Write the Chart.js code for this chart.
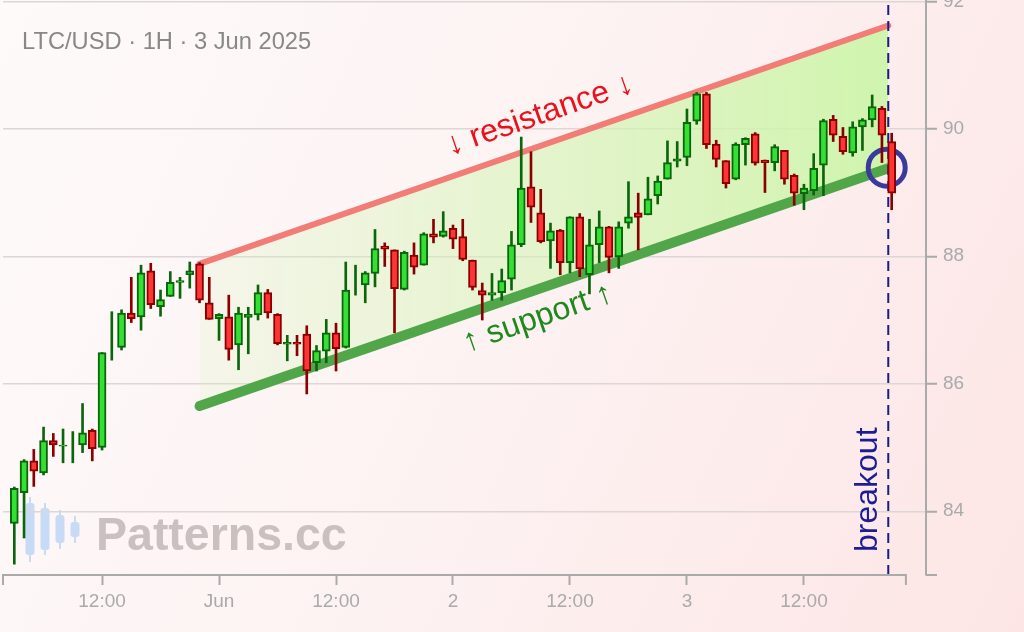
<!DOCTYPE html>
<html>
<head>
<meta charset="utf-8">
<script src="https://cdn.jsdelivr.net/npm/chart.js@4.4.1/dist/chart.umd.min.js"></script>
<style>
html,body{margin:0;padding:0;}
body{width:1024px;height:632px;overflow:hidden;background:linear-gradient(115deg,#fefafa 0%,#fdf3f3 45%,#fde5e5 100%);}
canvas{display:block;}
</style>
</head>
<body>
<canvas id="c" width="1024" height="632"></canvas>
<script>
// ---- data (hours counted from 31 May 2025 00:00) ----
const hours = [3,4,5,6,7,8,9,10,11,12,13,14,15,16,17,18,19,20,21,22,23,24,25,26,27,28,29,30,31,32,33,34,35,36,37,38,39,40,41,42,43,44,45,46,47,48,49,50,51,52,53,54,55,56,57,58,59,60,61,62,63,64,65,66,67,68,69,70,71,72,73,74,75,76,77,78,79,80,81,82,83,84,85,86,87,88,89,90,91,92,93];
const opens  = [83.81,84.29,84.79,84.60,85.11,85.02,85.05,85.04,85.27,85.00,86.55,86.57,87.11,87.05,87.77,87.21,87.37,87.59,87.71,87.88,87.27,87.02,87.05,86.61,87.04,87.08,87.43,87.09,86.62,86.65,86.78,86.33,86.51,86.80,86.57,87.60,87.55,87.73,88.16,88.10,87.48,88.02,87.86,88.35,88.31,88.44,88.31,87.94,87.46,87.39,87.43,87.64,88.18,89.09,88.68,88.24,88.41,87.90,88.62,87.71,88.18,88.46,87.99,88.52,88.68,88.65,88.95,89.21,89.49,89.55,90.12,90.55,89.76,89.50,89.21,89.75,89.92,89.51,89.47,89.66,89.27,88.98,89.03,89.43,90.15,89.88,89.62,90.03,90.14,90.32,89.80];
const highs  = [84.38,84.81,84.97,85.32,85.22,85.29,85.25,85.69,85.29,86.49,87.13,87.16,87.67,87.86,87.89,87.47,87.76,87.67,87.91,87.90,87.67,87.10,87.39,87.20,87.20,87.55,87.48,87.10,86.76,86.76,86.91,86.60,87.01,86.95,87.91,87.86,87.76,88.42,88.21,88.10,88.08,88.21,88.37,88.58,88.70,88.49,88.58,87.94,87.58,87.73,87.80,88.39,89.87,89.64,89.05,88.52,88.42,88.62,88.67,88.58,88.71,88.47,88.54,89.17,88.99,89.24,89.26,89.81,89.80,90.31,90.57,90.57,89.82,89.50,89.78,89.86,89.94,89.51,89.75,89.66,89.29,89.13,89.61,90.15,90.21,90.02,90.11,90.16,90.53,90.35,89.93];
const lows   = [83.17,83.58,84.39,84.57,84.86,84.76,84.76,84.92,84.79,84.96,86.37,86.53,86.96,86.84,87.18,87.06,87.37,87.34,87.50,87.27,87.01,86.68,86.37,86.22,86.47,87.00,87.03,86.61,86.36,86.44,85.84,86.20,86.33,86.20,86.56,87.39,87.27,87.52,87.84,86.80,87.47,87.72,87.86,88.21,88.30,88.12,87.93,87.47,87.00,87.31,87.31,87.47,88.15,88.53,88.21,87.81,87.71,87.74,87.68,87.41,87.90,87.74,87.81,88.44,88.10,88.65,88.82,89.21,89.40,89.42,90.07,89.69,89.40,89.07,89.20,89.43,89.43,89.00,89.34,89.13,88.80,88.73,88.96,88.95,89.80,89.60,89.57,89.66,90.03,89.47,88.73];
const closes = [84.36,84.79,84.63,85.11,85.04,85.04,85.05,85.23,84.98,86.49,86.55,87.11,87.02,87.74,87.24,87.32,87.59,87.62,87.77,87.31,87.01,87.09,86.54,87.11,87.09,87.43,87.11,86.63,86.65,86.62,86.20,86.52,86.80,86.55,87.47,87.60,87.74,88.12,88.11,87.49,88.06,87.83,88.35,88.30,88.40,88.27,87.95,87.51,87.39,87.43,87.62,88.18,89.07,88.77,88.23,88.40,87.90,88.62,87.80,88.18,88.46,87.98,88.46,88.62,88.61,88.90,89.18,89.47,89.53,90.10,90.55,89.75,89.52,89.14,89.76,89.85,89.46,89.47,89.72,89.21,88.99,89.07,89.38,90.13,89.90,89.64,90.03,90.14,90.35,89.90,88.99];

const xTickHours  = [12,24,36,48,60,72,84];
const xTickLabels = ['12:00','Jun','12:00','2','12:00','3','12:00'];
const yTicks = [84,86,88,90,92];

const channelX    = [22, 92.65];
const resistanceY = [87.88, 91.62];
const supportY    = [85.65, 89.38];
const breakoutHour = 92.65;
const breakoutPoint = [92.49, 89.39];

const titleText = 'LTC/USD · 1H · 3 Jun 2025';
const watermarkText = 'Patterns.cc';
const resistanceText = '↓ resistance ↓';
const supportText = '↑ support ↑';
const breakoutText = 'breakout';

// ---- styling ----
const FONT = '"Liberation Sans", Arial, sans-serif';
const bullFill = '#35e035', bullEdge = '#0b660b';
const bearFill = '#ff3535', bearEdge = '#8a0000';
const isBull = opens.map((o,i)=> closes[i] >= o);

Chart.defaults.font.family = FONT;

const deco = {
  id: 'deco',
  beforeDraw(chart) {
    const ctx = chart.ctx;
    ctx.save();
    // watermark logo
    ctx.fillStyle = '#c7daf6';
    ctx.strokeStyle = '#c7daf6';
    const logo = [[30,497,503,555,562],[45,503,508,550,555],[60,510,515,543,549],[75,516,522,537,543]];
    logo.forEach(([cx,wt,bt,bb,wb])=>{
      ctx.lineWidth = 2;
      ctx.beginPath(); ctx.moveTo(cx,wt); ctx.lineTo(cx,wb); ctx.stroke();
      ctx.beginPath();
      if (ctx.roundRect) ctx.roundRect(cx-4.5, bt, 9, bb-bt, 3); else ctx.rect(cx-4.5, bt, 9, bb-bt);
      ctx.fill();
    });
    ctx.font = 'bold 46.5px ' + FONT;
    ctx.fillStyle = '#cbc0c0';
    ctx.textBaseline = 'alphabetic';
    ctx.fillText(watermarkText, 96, 550);
    // title
    ctx.font = '23.7px ' + FONT;
    ctx.fillStyle = '#888888';
    ctx.fillText(titleText, 22, 48.5);
    ctx.restore();
  },
  afterDatasetsDraw(chart) {
    const ctx = chart.ctx, xs = chart.scales.x, ys = chart.scales.y, area = chart.chartArea;
    ctx.save();
    // x axis line with end caps
    ctx.strokeStyle = '#aaaaaa'; ctx.lineWidth = 2;
    const xa = xs.getPixelForValue(xs.min), xb = xs.getPixelForValue(94.46);
    ctx.beginPath();
    ctx.moveTo(xa, area.bottom + 10); ctx.lineTo(xa, area.bottom);
    ctx.lineTo(xb, area.bottom); ctx.lineTo(xb, area.bottom + 10);
    ctx.stroke();
    // y axis bottom cap
    ctx.beginPath(); ctx.moveTo(area.right, area.bottom); ctx.lineTo(area.right + 11, area.bottom); ctx.stroke();

    // channel labels
    const px0 = xs.getPixelForValue(channelX[0]), px1 = xs.getPixelForValue(channelX[1]);
    const ang = Math.atan2(ys.getPixelForValue(resistanceY[1]) - ys.getPixelForValue(resistanceY[0]), px1 - px0);
    const lineAt = (arr, h) => arr[0] + (arr[1]-arr[0]) * (h - channelX[0]) / (channelX[1]-channelX[0]);
    ctx.font = '32px ' + FONT;
    ctx.textAlign = 'center'; ctx.textBaseline = 'middle';
    let h = 56.9;
    ctx.save();
    ctx.translate(xs.getPixelForValue(h), ys.getPixelForValue(lineAt(resistanceY, h)) - 31);
    ctx.rotate(ang);
    ctx.fillStyle = '#e8121c';
    ctx.fillText(resistanceText, 0, 0);
    ctx.restore();
    h = 56.7;
    ctx.save();
    ctx.translate(xs.getPixelForValue(h), ys.getPixelForValue(lineAt(supportY, h)) + 29);
    ctx.rotate(ang);
    ctx.fillStyle = '#1e8a1e';
    ctx.fillText(supportText, 0, 0);
    ctx.restore();
    // breakout label
    ctx.save();
    ctx.translate(xs.getPixelForValue(breakoutHour) - 11, 552);
    ctx.rotate(-Math.PI/2);
    ctx.textAlign = 'left'; ctx.textBaseline = 'alphabetic';
    ctx.fillStyle = '#1c1c96';
    ctx.fillText(breakoutText, 0, 0);
    ctx.restore();
    ctx.restore();
  }
};

const ctx = document.getElementById('c').getContext('2d');
new Chart(ctx, {
  type: 'bar',
  data: {
    datasets: [
      {
        type: 'line', label: 'resistance', order: 5,
        data: channelX.map((x,i)=>({x, y: resistanceY[i]})),
        borderColor: '#f27c76', borderWidth: 6, borderCapStyle: 'round',
        pointRadius: 0,
        fill: 1,
        backgroundColor: (c) => {
          const ch = c.chart; if (!ch.chartArea) return 'rgba(205,245,170,0.5)';
          const xs = ch.scales.x;
          const g = ch.ctx.createLinearGradient(xs.getPixelForValue(channelX[0]), 0, xs.getPixelForValue(channelX[1]), 0);
          g.addColorStop(0, 'rgba(212,245,180,0.18)');
          g.addColorStop(1, 'rgba(205,245,170,0.95)');
          return g;
        }
      },
      {
        type: 'line', label: 'support', order: 4,
        data: channelX.map((x,i)=>({x, y: supportY[i]})),
        borderColor: '#52a64a', borderWidth: 10, borderCapStyle: 'round',
        pointRadius: 0, fill: false
      },
      {
        type: 'line', label: 'breakout', order: 3,
        data: [{x: breakoutHour, y: 83}, {x: breakoutHour, y: 92.02}],
        borderColor: '#1a1a8c', borderWidth: 2, borderDash: [10, 6],
        pointRadius: 0, fill: false
      },
      {
        type: 'line', label: 'circle', order: 2, showLine: false,
        data: [{x: breakoutPoint[0], y: breakoutPoint[1]}],
        pointRadius: 18.5, pointBorderWidth: 5, pointBorderColor: '#3a3a9c',
        pointBackgroundColor: 'rgba(0,0,0,0)'
      },
      {
        label: 'wicks', order: 1, grouped: false,
        data: hours.map((x,i)=>({x, y: [lows[i], highs[i]]})),
        backgroundColor: isBull.map(b => b ? bullEdge : bearEdge),
        borderWidth: 0, barThickness: 2
      },
      {
        label: 'bodies', order: 0, grouped: false,
        data: hours.map((x,i)=>({x, y: [opens[i], closes[i]]})),
        backgroundColor: isBull.map(b => b ? bullFill : bearFill),
        borderColor: isBull.map(b => b ? bullEdge : bearEdge),
        borderWidth: 2, borderSkipped: false, barThickness: 8
      }
    ]
  },
  options: {
    responsive: false,
    animation: false,
    layout: { autoPadding: false, padding: { left: 3, top: 0, right: 0, bottom: 0 } },
    plugins: { legend: { display: false }, tooltip: { enabled: false } },
    scales: {
      x: {
        type: 'linear', min: 1.84, max: 96.52, offset: false,
        afterBuildTicks: s => { s.ticks = xTickHours.map(v => ({ value: v })); },
        ticks: {
          autoSkip: false, maxRotation: 0, padding: 5,
          color: '#aaaaaa', font: { size: 19 },
          callback: (v) => xTickLabels[xTickHours.indexOf(v)]
        },
        grid: { offset: false, drawOnChartArea: false, drawTicks: true, tickLength: 10, tickColor: '#aaaaaa', tickWidth: 2 },
        border: { display: false },
        afterFit: s => { s.height = 57; s.paddingLeft = 0; s.paddingRight = 0; }
      },
      y: {
        position: 'right', min: 83, max: 92.02,
        afterBuildTicks: s => { s.ticks = yTicks.map(v => ({ value: v })); },
        ticks: { padding: 6, color: '#aaaaaa', font: { size: 19 }, callback: v => String(v) },
        grid: { color: '#ddd6d6', lineWidth: 1.5, tickLength: 11, tickColor: '#aaaaaa', tickWidth: 2 },
        border: { display: true, color: '#aaaaaa', width: 2 },
        afterFit: s => { s.width = 98; s.paddingTop = 0; s.paddingBottom = 0; }
      }
    }
  },
  plugins: [deco]
});
</script>
</body>
</html>
